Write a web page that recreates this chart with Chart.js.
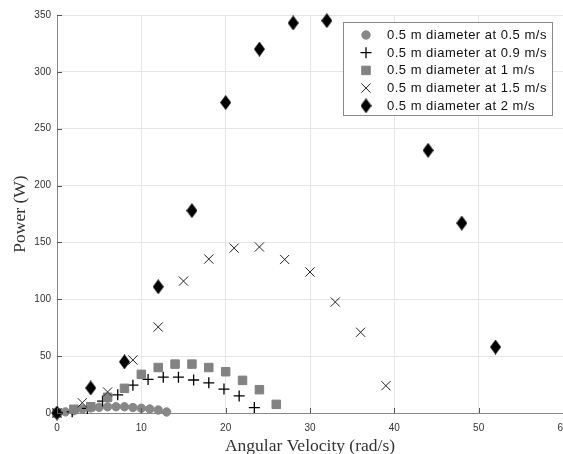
<!DOCTYPE html>
<html>
<head>
<meta charset="utf-8">
<script src="https://cdn.jsdelivr.net/npm/chart.js@4"></script>
<style>
  html, body { margin: 0; padding: 0; overflow: hidden; background: #fff; }
  #wrap { position: absolute; left: 0; top: 0; width: 600px; height: 454px; }
</style>
</head>
<body>
<div id="wrap"><canvas id="powerChart"></canvas></div>
<script>
// angular velocity (rad/s) and power (W) for each flow speed
const speed05X = [0, 1, 2, 3, 4, 5, 6, 7, 8, 9, 10, 11, 12, 13];
const speed05Y = [0, 1, 2, 3.5, 4.5, 5, 5.5, 5.5, 5.5, 4.8, 4.2, 3.5, 2.6, 0.9];
const speed09X = [0, 1.8, 3.6, 5.4, 7.2, 9, 10.8, 12.6, 14.4, 16.2, 18, 19.8, 21.6, 23.4];
const speed09Y = [0, 1, 4, 10.5, 16, 24.5, 29.5, 31.5, 31.5, 29, 26.5, 21, 15, 4.8];
const speed1X = [0, 2, 4, 6, 8, 10, 12, 14, 16, 18, 20, 22, 24, 26];
const speed1Y = [0, 3.3, 5.5, 13.8, 21.7, 34, 40, 43, 43, 40, 36.3, 28.7, 20.5, 7.6];
const speed15X = [0, 3, 6, 9, 12, 15, 18, 21, 24, 27, 30, 33, 36, 39];
const speed15Y = [0, 9, 18.5, 46.6, 75.6, 116, 135.4, 145, 146, 135, 124, 97.6, 71, 24];
const speed2X = [0, 4, 8, 12, 16, 20, 24, 28, 32, 44, 48, 52];
const speed2Y = [0, 22, 45, 111, 178, 273, 320, 343, 345, 231, 167, 58];

const seriesLabels = [
  "0.5 m diameter at 0.5 m/s",
  "0.5 m diameter at 0.9 m/s",
  "0.5 m diameter at 1 m/s",
  "0.5 m diameter at 1.5 m/s",
  "0.5 m diameter at 2 m/s"
];

const xTicks = { min: 0, max: 60, step: 10 };
const yTicks = { min: 0, max: 350, step: 50 };

function toPoints(xs, ys) {
  return xs.map((x, i) => ({ x: x, y: ys[i] }));
}

// tall diamond marker (matlab style)
function makeDiamond(w, h) {
  const c = document.createElement("canvas");
  c.width = w; c.height = h;
  const g = c.getContext("2d");
  g.fillStyle = "#000";
  g.beginPath();
  g.moveTo(w / 2, 0);
  g.lineTo(w, h / 2);
  g.lineTo(w / 2, h);
  g.lineTo(0, h / 2);
  g.closePath();
  g.fill();
  return c;
}
const diamond = makeDiamond(11, 15);

// legend drawn inside the plot area, top right
const insideLegend = {
  id: "insideLegend",
  afterDatasetsDraw(chart) {
    const ctx = chart.ctx;
    const box = { x: 343.5, y: 22.5, w: 209, h: 93 };
    ctx.save();
    ctx.fillStyle = "#fff";
    ctx.fillRect(box.x, box.y, box.w, box.h);
    ctx.strokeStyle = "#8a8a8a";
    ctx.lineWidth = 1;
    ctx.strokeRect(box.x, box.y, box.w, box.h);
    ctx.font = "13px 'Liberation Sans', Arial, sans-serif";
    if ("letterSpacing" in ctx) ctx.letterSpacing = "0.5px";
    ctx.textBaseline = "middle";
    ctx.textAlign = "left";
    chart.data.datasets.forEach((ds, i) => {
      const y = 35 + i * 17.7;
      const opts = {
        pointStyle: ds.pointStyle,
        radius: ds.pointRadius,
        borderWidth: ds.pointBorderWidth,
        rotation: 0
      };
      ctx.fillStyle = ds.pointBackgroundColor;
      ctx.strokeStyle = ds.pointBorderColor;
      ctx.lineWidth = ds.pointBorderWidth;
      Chart.helpers.drawPoint(ctx, opts, 366, y);
      ctx.fillStyle = "#111";
      ctx.fillText(ds.label, 387, y + 0.5);
    });
    ctx.restore();
  }
};

// short tick marks pointing into the plot
const innerTicks = {
  id: "innerTicks",
  afterDraw(chart) {
    const ctx = chart.ctx;
    const a = chart.chartArea;
    const xs = chart.scales.x, ys = chart.scales.y;
    ctx.save();
    ctx.strokeStyle = "#555";
    ctx.lineWidth = 1;
    ctx.beginPath();
    ys.ticks.forEach(t => {
      const p = Math.round(ys.getPixelForValue(t.value)) + 0.5;
      ctx.moveTo(a.left, p);
      ctx.lineTo(a.left + 5, p);
    });
    xs.ticks.forEach(t => {
      const p = Math.round(xs.getPixelForValue(t.value)) + 0.5;
      ctx.moveTo(p, a.bottom);
      ctx.lineTo(p, a.bottom - 5);
    });
    ctx.stroke();
    ctx.restore();
  }
};

const tickFont = { family: "'Liberation Sans', Arial, sans-serif", size: 10 };
const titleFont = { family: "'Liberation Serif', 'Times New Roman', serif", size: 17.5 };

new Chart(document.getElementById("powerChart"), {
  type: "scatter",
  data: {
    datasets: [
      {
        label: seriesLabels[0],
        data: toPoints(speed05X, speed05Y),
        order: 4,
        clip: false,
        pointStyle: "circle",
        pointRadius: 4.2,
        pointBorderWidth: 1,
        pointBackgroundColor: "#888888",
        pointBorderColor: "#888888"
      },
      {
        label: seriesLabels[1],
        data: toPoints(speed09X, speed09Y),
        order: 3,
        clip: false,
        pointStyle: "cross",
        pointRadius: 5.5,
        pointBorderWidth: 1.3,
        pointBackgroundColor: "#000",
        pointBorderColor: "#000"
      },
      {
        label: seriesLabels[2],
        data: toPoints(speed1X, speed1Y),
        order: 2,
        clip: false,
        pointStyle: "rect",
        pointRadius: 6,
        pointBorderWidth: 1,
        pointBackgroundColor: "#828282",
        pointBorderColor: "#828282"
      },
      {
        label: seriesLabels[3],
        data: toPoints(speed15X, speed15Y),
        order: 1,
        clip: false,
        pointStyle: "crossRot",
        pointRadius: 6.5,
        pointBorderWidth: 1,
        pointBackgroundColor: "#222",
        pointBorderColor: "#222"
      },
      {
        label: seriesLabels[4],
        data: toPoints(speed2X, speed2Y),
        order: 0,
        clip: false,
        pointStyle: diamond,
        pointRadius: 6,
        pointBorderWidth: 0,
        pointBackgroundColor: "#000",
        pointBorderColor: "#000"
      }
    ]
  },
  options: {
    responsive: true,
    maintainAspectRatio: false,
    animation: false,
    events: [],
    layout: { padding: { top: 15, right: 37, bottom: 0, left: 0 } },
    scales: {
      x: {
        type: "linear",
        min: xTicks.min,
        max: xTicks.max,
        afterFit: s => { s.height = 41; },
        ticks: { stepSize: xTicks.step, font: tickFont, color: "#333", padding: 9 },
        grid: { color: "#e6e6e6", drawTicks: false },
        border: { color: "#888", width: 1 },
        title: {
          display: true,
          text: "Angular Velocity (rad/s)",
          font: titleFont,
          color: "#333",
          padding: { top: 0, bottom: -2.5 }
        }
      },
      y: {
        type: "linear",
        min: yTicks.min,
        max: yTicks.max,
        afterFit: s => { s.width = 57; },
        ticks: { stepSize: yTicks.step, font: tickFont, color: "#333", padding: 6 },
        grid: { color: "#e6e6e6", drawTicks: false },
        border: { color: "#888", width: 1 },
        title: {
          display: true,
          text: "Power (W)",
          font: titleFont,
          color: "#333",
          padding: { top: 10, bottom: 0 }
        }
      }
    },
    plugins: {
      legend: { display: false },
      tooltip: { enabled: false },
      title: { display: false }
    }
  },
  plugins: [insideLegend, innerTicks]
});
</script>
</body>
</html>
